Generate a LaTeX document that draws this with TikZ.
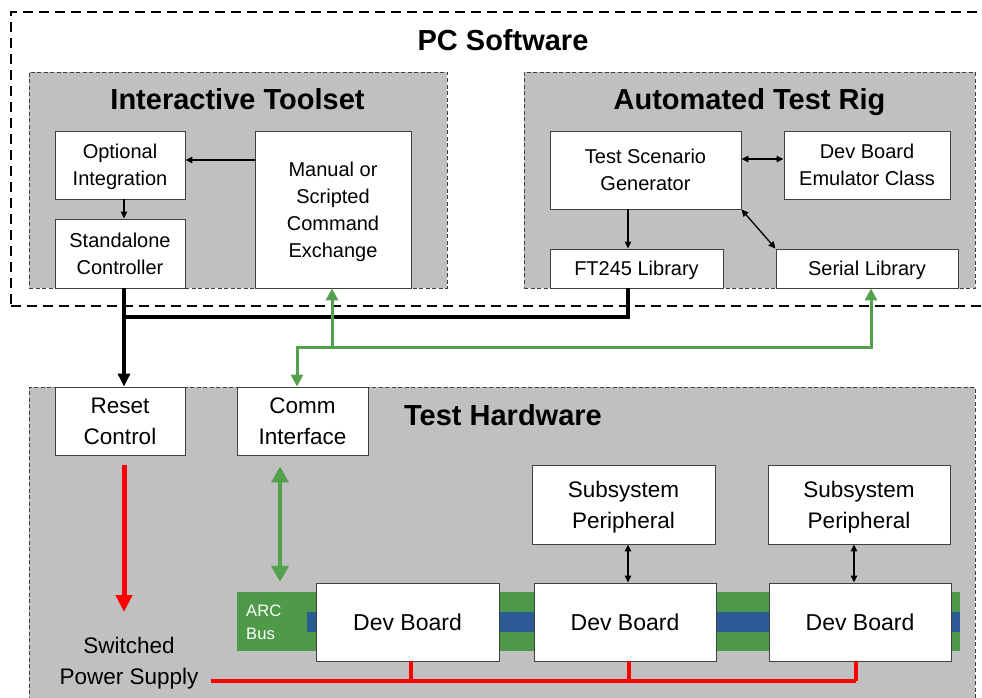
\documentclass[tikz,border=0pt]{standalone}
\usepackage{fontspec}
\setmainfont{Liberation Sans}
\usetikzlibrary{arrows.meta}
\definecolor{grayfill}{HTML}{C0C0C0}
\definecolor{arcgreen}{HTML}{4F9A48}
\definecolor{arrowgreen}{HTML}{55A04C}
\definecolor{arcblue}{HTML}{2D5B96}
\definecolor{boxline}{HTML}{404040}
\definecolor{pwrred}{HTML}{FF0000}
\begin{document}
\begin{tikzpicture}[x=1pt,y=-1pt,
  box/.style={draw=boxline, fill=white, line width=0.9pt, inner sep=0pt, align=center,
    text depth=0pt, font=\fontsize{20}{27}\selectfont},
  hwbox/.style={box, font=\fontsize{22.5}{31}\selectfont},
  devbox/.style={box, font=\fontsize{23}{31}\selectfont, minimum width=182pt, minimum height=78pt},
  grp/.style={draw=black!75, fill=grayfill, dash pattern=on 4pt off 2.5pt, line width=0.9pt, inner sep=0pt},
  outer/.style={draw=black, dash pattern=on 10pt off 6pt, line width=1.6pt, inner sep=0pt},
  title/.style={font=\bfseries\fontsize{29}{34}\selectfont, anchor=base, inner sep=0pt},
  thin/.style={line width=1.3pt, -{Triangle[length=7pt,width=6.5pt]}},
  thinboth/.style={line width=1.3pt, {Triangle[length=7pt,width=6.5pt]}-{Triangle[length=7pt,width=6.5pt]}},
  thick/.style={line width=3.5pt},
  grn/.style={draw=arrowgreen, line width=3pt},
  redl/.style={draw=pwrred, line width=4pt}
]
\useasboundingbox (0,0) rectangle (982,698);

% ---------- containers ----------
\node[outer, minimum width=1000pt, minimum height=294pt] (pc) at (511,159) {};
\node[title] (pctitle) at (503,51) {PC Software};

\node[grp, minimum width=418pt, minimum height=216pt] (its) at (238,180) {};
\node[title] (itstitle) at (237.5,110) {Interactive Toolset};

\node[grp, minimum width=451pt, minimum height=216pt] (atr) at (749.5,180) {};
\node[title] (atrtitle) at (749.5,110) {Automated Test Rig};

\node[grp, minimum width=946pt, minimum height=340pt] (hw) at (502,557) {};
\node[title] (hwtitle) at (503,425) {Test Hardware};

% ---------- PC software boxes ----------
\node[box, minimum width=130pt, minimum height=68pt] (opt) at (120,165) {Optional\\Integration};
\node[box, minimum width=130pt, minimum height=69pt] (stand) at (120,253.5) {Standalone\\Controller};
\node[box, minimum width=156pt, minimum height=157pt] (manual) at (333,209.5) {Manual or\\Scripted\\Command\\Exchange};

\node[box, minimum width=191pt, minimum height=78pt] (tsg) at (645.5,170) {Test Scenario\\Generator};
\node[box, minimum width=166pt, minimum height=68pt] (dbe) at (867,165) {Dev Board\\Emulator Class};
\node[box, minimum width=173pt, minimum height=39pt] (ft) at (636.5,268.5) {FT245 Library};
\node[box, minimum width=182pt, minimum height=39pt] (serial) at (867,268.5) {Serial Library};

% ---------- hardware ----------
\node[hwbox, minimum width=130pt, minimum height=68pt] (reset) at (120,421) {Reset\\Control};
\node[hwbox, minimum width=131pt, minimum height=68pt] (comm) at (302.5,421) {Comm\\Interface};
\node[hwbox, minimum width=183pt, minimum height=79pt] (sub1) at (623.5,504.5) {Subsystem\\Peripheral};
\node[hwbox, minimum width=182pt, minimum height=79pt] (sub2) at (859,504.5) {Subsystem\\Peripheral};

\node[fill=arcgreen, minimum width=723pt, minimum height=59pt, inner sep=0pt] (arc) at (598.5,621.5) {};
\node[fill=arcblue, minimum width=653pt, minimum height=20pt, inner sep=0pt] (bluebar) at (633.5,622) {};
\node[anchor=west, align=left, text=white, inner sep=0pt, font=\fontsize{16.6}{23}\selectfont] (arclbl) at (246,622) {ARC\\Bus};

\node[devbox, minimum width=183pt] (db1) at (407.5,622) {Dev Board};
\node[devbox] (db2) at (625,622) {Dev Board};
\node[devbox] (db3) at (860,622) {Dev Board};

\node[align=center, inner sep=0pt, font=\fontsize{22.5}{31}\selectfont] (psu) at (129,663) {Switched\\Power Supply};

% ---------- column / row coordinates ----------
\coordinate (xa) at (124,0);
\coordinate (xft) at (628,0);
\coordinate (g1) at (297,0);
\coordinate (g2) at (332,0);
\coordinate (g3) at (871,0);
\coordinate (gy) at (0,347);
\coordinate (by) at (0,317);
\coordinate (ry) at (0,681);
\coordinate (r1) at (411,0);
\coordinate (r2) at (629,0);
\coordinate (r3) at (856,0);
\coordinate (redtip) at (124,612);
\coordinate (redstart) at (211,681);
\coordinate (ay) at (0,160);
\coordinate (ay2) at (0,159);

% ---------- connectors: PC software ----------
\draw[thin] (manual.west |- ay) -- (opt.east |- ay);
\draw[thin] (opt.south -| xa) -- (stand.north -| xa);
\draw[thin] (tsg.south -| xft) -- (ft.north -| xft);
\draw[thinboth] (tsg.east |- ay2) -- (dbe.west |- ay2);
\draw[thinboth] (tsg.south east) -- (serial.north west);

% black control lines
\draw[thick, -{Triangle[length=13pt,width=12pt]}] (stand.south -| xa) -- (reset.north -| xa);
\draw[thick] (ft.south -| xft) -- (xft |- by) -- (xa |- by);

% green comm lines
\draw[grn, {Triangle[length=12pt,width=12pt]}-{Triangle[length=12pt,width=12pt]}]
  (comm.north -| g1) -- (g1 |- gy) -- (g3 |- gy) -- (serial.south -| g3);
\draw[grn, -{Triangle[length=12pt,width=12pt]}] (g2 |- gy) -- (manual.south -| g2);

% hardware connectors
\draw[draw=arrowgreen, line width=4.2pt, shorten <=11pt, shorten >=10pt,
  {Triangle[length=16pt,width=17pt]}-{Triangle[length=16pt,width=17pt]}]
  (comm.south -| 280,0) -- (arc.north -| 280,0);
\draw[thinboth] (sub1.south -| xft) -- (db2.north -| xft);
\draw[thinboth] (sub2.south -| 854,0) -- (db3.north -| 854,0);

% power lines
\draw[draw=pwrred, line width=5pt, shorten <=10pt, -{Triangle[length=17pt,width=16pt]}] (reset.south -| xa) -- (redtip);
\draw[redl] (redstart) -- (r3 |- ry);
\draw[draw=pwrred, line width=3.5pt] (db1.south -| r1) -- (r1 |- ry);
\draw[draw=pwrred, line width=3.5pt] (db2.south -| r2) -- (r2 |- ry);
\draw[draw=pwrred, line width=3.5pt] (db3.south -| r3) -- (r3 |- ry);
\end{tikzpicture}
\end{document}
